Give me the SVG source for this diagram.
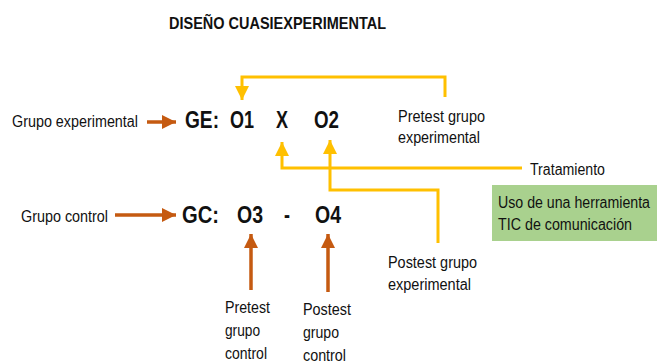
<svg xmlns="http://www.w3.org/2000/svg" width="657" height="363" viewBox="0 0 657 363">
<defs>
<style>
text{font-family:"Liberation Sans",Arial,sans-serif;fill:#111}
.lbl{font-size:16px}
.big{font-size:24px;font-weight:bold}
.title{font-size:17px;font-weight:bold}
.y{fill:none;stroke:#ffc000;stroke-width:3}
.b{fill:none;stroke:#c55a11;stroke-width:3.5}
</style>
<marker id="ya" markerUnits="userSpaceOnUse" markerWidth="14" markerHeight="14" refX="12" refY="6" orient="auto" viewBox="0 0 12 12">
<path d="M0,0 L12,6 L0,12 Z" fill="#ffc000"/>
</marker>
<marker id="ba" markerUnits="userSpaceOnUse" markerWidth="14" markerHeight="14" refX="12" refY="6" orient="auto" viewBox="0 0 12 12">
<path d="M0,0 L12,6 L0,12 Z" fill="#c55a11"/>
</marker>
</defs>
<rect width="657" height="363" fill="#fff"/>
<text class="title" x="169" y="29" textLength="217" lengthAdjust="spacingAndGlyphs">DISEÑO CUASIEXPERIMENTAL</text>

<g id="connectors">
<path class="y" d="M445,97 V77 H242 V100" marker-end="url(#ya)"/>
<path class="y" d="M522,168 H282 V142" marker-end="url(#ya)"/>
<path class="y" d="M438,243 V190 H330 V140" marker-end="url(#ya)"/>
<path class="b" d="M147,122 H176" marker-end="url(#ba)"/>
<path class="b" d="M115,215 H176" marker-end="url(#ba)"/>
<path class="b" d="M251,290 V234" marker-end="url(#ba)"/>
<path class="b" d="M328,292 V234" marker-end="url(#ba)"/>
</g>

<g id="grupo-experimental"><text class="lbl" x="12" y="127" textLength="126" lengthAdjust="spacingAndGlyphs">Grupo experimental</text></g>
<g id="grupo-control"><text class="lbl" x="21" y="222" textLength="87" lengthAdjust="spacingAndGlyphs">Grupo control</text></g>

<g id="GE"><text class="big" x="185" y="128" textLength="34" lengthAdjust="spacingAndGlyphs">GE:</text></g>
<g id="O1"><text class="big" x="230" y="128" textLength="24" lengthAdjust="spacingAndGlyphs">O1</text></g>
<g id="X"><text class="big" x="276" y="128" textLength="12" lengthAdjust="spacingAndGlyphs">X</text></g>
<g id="O2"><text class="big" x="314" y="128" textLength="25" lengthAdjust="spacingAndGlyphs">O2</text></g>

<g id="GC"><text class="big" x="182" y="223" textLength="37" lengthAdjust="spacingAndGlyphs">GC:</text></g>
<g id="O3"><text class="big" x="237" y="223" textLength="26" lengthAdjust="spacingAndGlyphs">O3</text></g>
<g id="dash"><text class="big" x="284" y="223" textLength="6" lengthAdjust="spacingAndGlyphs">-</text></g>
<g id="O4"><text class="big" x="315" y="223" textLength="26" lengthAdjust="spacingAndGlyphs">O4</text></g>

<g id="pretest-ge">
<text class="lbl" x="398" y="122" textLength="87" lengthAdjust="spacingAndGlyphs">Pretest grupo</text>
<text class="lbl" x="398" y="143" textLength="82" lengthAdjust="spacingAndGlyphs">experimental</text>
</g>
<g id="tratamiento"><text class="lbl" x="530" y="175" textLength="75" lengthAdjust="spacingAndGlyphs">Tratamiento</text></g>
<g id="herramienta">
<rect x="492" y="185" width="165" height="56" fill="#a9d18e"/>
<text class="lbl" x="498" y="208" textLength="152" lengthAdjust="spacingAndGlyphs">Uso de una herramienta</text>
<text class="lbl" x="498" y="230" textLength="134" lengthAdjust="spacingAndGlyphs">TIC de comunicación</text>
</g>
<g id="postest-ge">
<text class="lbl" x="388" y="268" textLength="89" lengthAdjust="spacingAndGlyphs">Postest grupo</text>
<text class="lbl" x="388" y="290" textLength="83" lengthAdjust="spacingAndGlyphs">experimental</text>
</g>
<g id="pretest-gc">
<text class="lbl" x="225" y="313" textLength="45" lengthAdjust="spacingAndGlyphs">Pretest</text>
<text class="lbl" x="225" y="336" textLength="35" lengthAdjust="spacingAndGlyphs">grupo</text>
<text class="lbl" x="225" y="359" textLength="42" lengthAdjust="spacingAndGlyphs">control</text>
</g>
<g id="postest-gc">
<text class="lbl" x="303" y="315" textLength="48" lengthAdjust="spacingAndGlyphs">Postest</text>
<text class="lbl" x="303" y="338" textLength="36" lengthAdjust="spacingAndGlyphs">grupo</text>
<text class="lbl" x="303" y="361" textLength="43" lengthAdjust="spacingAndGlyphs">control</text>
</g>
</svg>
